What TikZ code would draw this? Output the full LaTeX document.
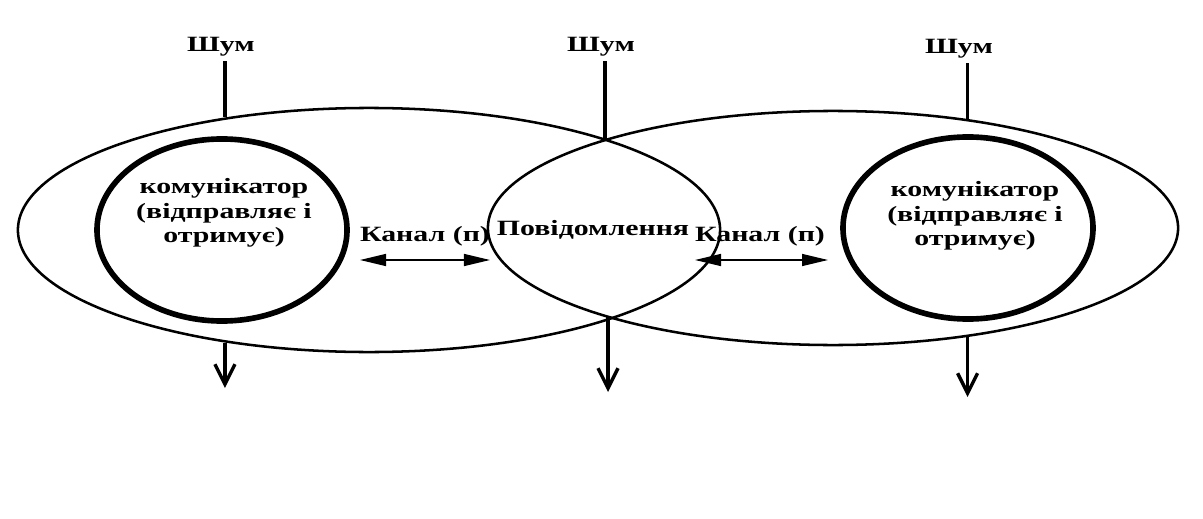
\documentclass[tikz,border=0pt]{standalone}
\usepackage{fontspec}
\setmainfont{Liberation Serif}[FakeStretch=1.37]
\usetikzlibrary{shapes.geometric, arrows.meta}

\begin{document}
\begin{tikzpicture}[x=0.025cm, y=-0.025cm,
  every node/.style={font=\fontsize{15.5}{17.5}\selectfont\bfseries},
  field/.style={ellipse, draw, line width=1.8pt, inner sep=0pt},
  comm/.style={ellipse, draw, line width=4pt, inner sep=0pt, minimum width=6.25cm, minimum height=4.55cm},
  noise/.style={line width=2.2pt},
  outarrow/.style={line width=2.4pt, -{Straight Barb[length=5mm, width=5mm, line width=2.4pt]}},
  chan/.style={line width=1pt, {Triangle[length=6.5mm, width=3mm]}-{Triangle[length=6.5mm, width=3mm]}}]

  \useasboundingbox (0,0) rectangle (1203,519);

  % Fields of experience
  \node[field, minimum width=17.55cm, minimum height=6.1cm] (lfield) at (369,230) {};
  \node[field, minimum width=17.25cm, minimum height=5.85cm] (rfield) at (833,228) {};
  \coordinate (lenstop) at (605,141);
  \coordinate (lensbot) at (608,317);

  % Communicators
  \node[comm] (lcomm) at (222,230) {};
  \node[comm] (rcomm) at (968,228) {};
  \node[align=center] (ltext) at (224,213) {комунікатор\\(відправляє і\\отримує)};
  \node[align=center] (rtext) at (975,216) {комунікатор\\(відправляє і\\отримує)};

  % Message
  \node (msg) at (593,230) {Повідомлення};

  % Channels
  \coordinate (ch1a) at (360,260);
  \coordinate (ch1b) at (490,260);
  \coordinate (ch2a) at (695,260);
  \coordinate (ch2b) at (828,260);
  \draw[chan] (ch1a) -- (ch1b);
  \draw[chan] (ch2a) -- (ch2b);
  \node (kanal1) at (425,236) {Канал (п)};
  \node (kanal2) at (760,236) {Канал (п)};

  % Noise
  \node (shum1) at (221,47) {Шум};
  \node (shum2) at (601,47) {Шум};
  \node (shum3) at (959,49) {Шум};
  \draw[noise] (shum1.south -| lfield.142) -- (lfield.142);
  \draw[noise] (shum2.south -| lenstop) -- (lenstop);
  \draw[noise] (shum3.south -| rfield.39) -- (rfield.39);

  % Outputs
  \coordinate (out1) at (228,388);
  \coordinate (out2) at (605,392);
  \coordinate (out3) at (966,397);
  \draw[outarrow] (lfield.218) -- (lfield.218 |- out1);
  \draw[outarrow] (lensbot) -- (lensbot |- out2);
  \draw[outarrow] (rfield.321) -- (rfield.321 |- out3);
\end{tikzpicture}
\end{document}
